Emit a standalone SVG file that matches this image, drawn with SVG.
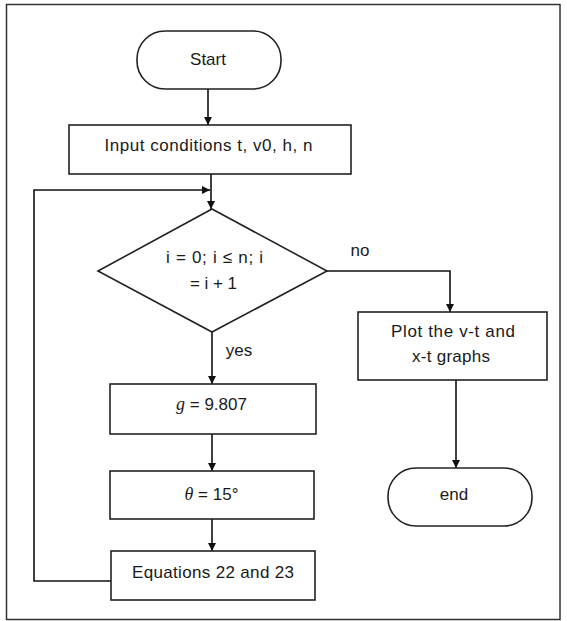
<svg xmlns="http://www.w3.org/2000/svg" width="567" height="621" viewBox="0 0 567 621">
<style>
.sh{fill:#fff;stroke:#222;stroke-width:1.6}
.ln{fill:none;stroke:#111;stroke-width:1.6}
.t{font-family:"Liberation Sans",Arial,sans-serif;font-size:17px;fill:#1a1a1a;text-anchor:middle}
.m{font-family:"Liberation Serif","Times New Roman",serif;font-style:italic}
</style>
<defs>
<marker id="ah" viewBox="0 0 10 10" refX="10" refY="5" markerWidth="8" markerHeight="9" markerUnits="userSpaceOnUse" orient="auto">
<path d="M0,0 L10,5 L0,10 z" fill="#111"/>
</marker>
</defs>
<rect x="6.5" y="4.5" width="553.5" height="615" fill="#fff" stroke="#333" stroke-width="1.5"/>
<g id="connectors">
<path class="ln" d="M208,89 V125" marker-end="url(#ah)"/>
<path class="ln" d="M211,174 V209" marker-end="url(#ah)"/>
<path class="ln" d="M111,581 H34 V190 H210" marker-end="url(#ah)"/>
<path class="ln" d="M212,332 V384" marker-end="url(#ah)"/>
<path class="ln" d="M212,434 V471" marker-end="url(#ah)"/>
<path class="ln" d="M212,519 V551" marker-end="url(#ah)"/>
<path class="ln" d="M327,271 H450 V312" marker-end="url(#ah)"/>
<path class="ln" d="M456,380 V468" marker-end="url(#ah)"/>
<text class="t" x="360" y="256">no</text>
<text class="t" x="239" y="356">yes</text>
</g>
<g id="start">
<rect class="sh" x="137" y="31" width="144" height="58" rx="28" ry="28"/>
<text class="t" x="208" y="65">Start</text>
</g>
<g id="input">
<rect class="sh" x="69" y="125" width="282" height="49"/>
<text class="t" x="208.5" y="151" textLength="208" lengthAdjust="spacing">Input conditions t, v0, h, n</text>
</g>
<g id="decision">
<polygon class="sh" points="212,209 327,271 212,332 98,271"/>
<text class="t" x="214.5" y="263" textLength="97" lengthAdjust="spacing">i = 0; i ≤ n; i</text>
<text class="t" x="213.5" y="289" textLength="47" lengthAdjust="spacing">= i + 1</text>
</g>
<g id="g-box">
<rect class="sh" x="110" y="384" width="206" height="50"/>
<text class="t" x="211.5" y="410"><tspan class="m" font-size="18">g</tspan> = 9.807</text>
</g>
<g id="theta-box">
<rect class="sh" x="110" y="471" width="204" height="48"/>
<text class="t" x="211.5" y="500"><tspan class="m" font-size="18">θ</tspan> = 15°</text>
</g>
<g id="equations">
<rect class="sh" x="111" y="551" width="204" height="49"/>
<text class="t" x="213" y="578" textLength="162" lengthAdjust="spacing">Equations 22 and 23</text>
</g>
<g id="plot">
<rect class="sh" x="358" y="312" width="189" height="68"/>
<text class="t" x="453" y="337" textLength="124" lengthAdjust="spacing">Plot the v-t and</text>
<text class="t" x="451" y="362" textLength="78" lengthAdjust="spacing">x-t graphs</text>
</g>
<g id="end">
<rect class="sh" x="388" y="468" width="144" height="58" rx="28" ry="28"/>
<text class="t" x="454" y="500">end</text>
</g>
</svg>
